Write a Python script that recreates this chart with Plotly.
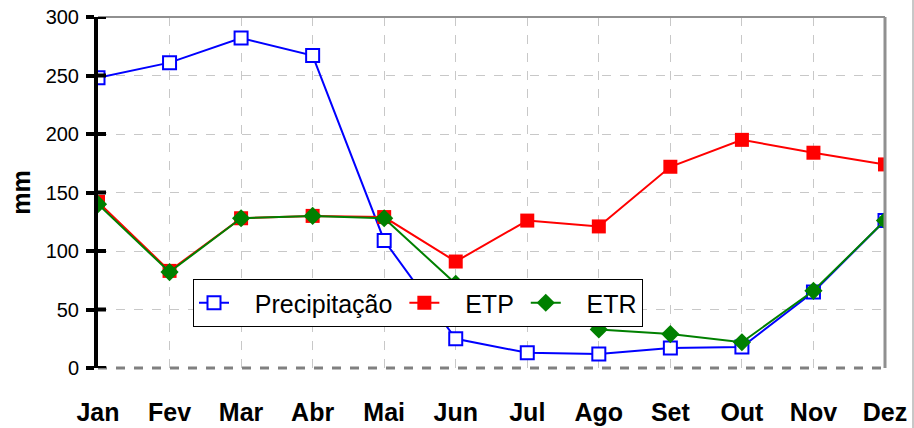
import plotly.graph_objects as go

months = ["Jan", "Fev", "Mar", "Abr", "Mai", "Jun", "Jul", "Ago", "Set", "Out", "Nov", "Dez"]
precip = [248, 261, 282, 267, 109, 25, 13, 12, 17, 18, 65, 126]
etp = [142, 83, 128, 130, 129, 91, 126, 121, 172, 195, 184, 174]
etr = [140, 82, 128, 130, 128, 72, 59, 33, 29, 22, 66, 126]
yticks = [0, 50, 100, 150, 200, 250, 300]
names = ["Precipitação", "ETP", "ETR"]

FONT = "Liberation Sans, Arial, sans-serif"
W, H = 914, 428
L, R, T, B = 98, 29, 17, 60
PW = W - L - R
PH = H - T - B
PRE = "\u00a0\u00a0\u00a0"
SUF = "\u00a0"

fig = go.Figure()
fig.add_trace(go.Scatter(x=months, y=precip, name=PRE + names[0] + SUF, mode="lines+markers",
                         line=dict(color="#0000FF", width=2),
                         marker=dict(symbol="square", size=13, color="white",
                                     line=dict(color="#0000FF", width=2))))
fig.add_trace(go.Scatter(x=months, y=etp, name=PRE + names[1] + SUF, mode="lines+markers",
                         line=dict(color="#FF0000", width=2),
                         marker=dict(symbol="square", size=14, color="#FF0000")))
fig.add_trace(go.Scatter(x=months, y=etr, name=PRE + names[2], mode="lines+markers",
                         line=dict(color="#008000", width=2),
                         marker=dict(symbol="diamond", size=14, color="#008000")))

shapes = [
    dict(type="line", xref="paper", yref="paper", x0=0, x1=1, y0=1, y1=1,
         line=dict(color="#909090", width=2)),
    dict(type="line", xref="paper", yref="paper", x0=1, x1=1, y0=0, y1=1,
         line=dict(color="#909090", width=3)),
    dict(type="line", xref="paper", yref="paper", x0=0, x1=1, y0=0, y1=0,
         line=dict(color="#808080", width=3, dash="dash")),
    dict(type="line", xref="paper", yref="paper", x0=(913 - L) / PW, x1=(913 - L) / PW,
         y0=-0.2, y1=1.1, line=dict(color="#909090", width=1)),
]
for v in yticks:
    shapes.append(dict(type="line", xref="paper", yref="y", x0=0, x1=8 / PW, y0=v, y1=v,
                       line=dict(color="black", width=4)))

fig.update_layout(
    width=W, height=H,
    margin=dict(l=L, r=R, t=T, b=B),
    paper_bgcolor="white", plot_bgcolor="white",
    font=dict(family=FONT, color="black"),
    showlegend=True,
    legend=dict(orientation="h", x=(193 - L) / PW, y=(368 - 279) / PH, xanchor="left", yanchor="top",
                bgcolor="white", bordercolor="black", borderwidth=1,
                font=dict(size=25), itemwidth=30, tracegroupgap=0),
    xaxis=dict(type="category", range=[0, 11], showgrid=True, gridcolor="#C8C8C8",
               griddash="dash", gridwidth=1, ticks="", showline=False, zeroline=False,
               tickfont=dict(size=25, family=FONT), tickprefix="<b>", ticksuffix="</b>",
               ticklabelstandoff=27, automargin=False, ticklabeloverflow="allow"),
    yaxis=dict(range=[0, 300], tickvals=yticks, showgrid=True, gridcolor="#C8C8C8",
               griddash="dash", gridwidth=1, zeroline=False,
               showline=True, linecolor="black", linewidth=4,
               ticks="outside", ticklen=8, tickwidth=4, tickcolor="black",
               tickfont=dict(size=20), ticklabelstandoff=3, automargin=False,
               ticklabeloverflow="allow",
               title=dict(text="<b>mm</b>", font=dict(size=25), standoff=9)),
    shapes=shapes,
)
fig.write_html("out.html", config={"displayModeBar": False},
               post_script="document.body.style.margin='0px';")
